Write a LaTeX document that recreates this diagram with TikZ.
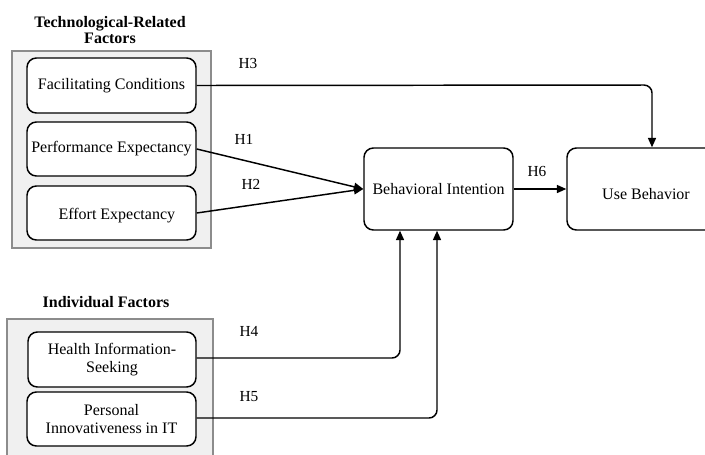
\documentclass[tikz,border=0pt]{standalone}
\usepackage{fontspec}
\setmainfont{Liberation Serif}
\usetikzlibrary{arrows.meta}
\begin{document}
\begin{tikzpicture}[x=0.75pt,y=-0.75pt,
  box/.style={draw=black, line width=1.1pt, rounded corners=7pt, fill=white, align=center, font=\fontsize{12}{14}\selectfont, inner sep=0pt},
  grp/.style={draw=black!45, line width=1pt, fill=black!6},
  ttl/.style={font=\bfseries\fontsize{12}{12.5}\selectfont, align=center},
  lbl/.style={font=\fontsize{11.5}{12}\selectfont},
  conn/.style={line width=1.1pt, -{Triangle[length=7pt,width=6pt]}, rounded corners=6pt}]
\useasboundingbox (0,0) rectangle (705,454);
\clip (0,0) rectangle (705,454);
% groups
\draw[grp] (12,51) rectangle (211,248);
\draw[grp] (7,319) rectangle (213,470);
\node[ttl] (t1) at (110,30) {Technological-Related\\[-1pt]Factors};
\node[ttl] (t2) at (106,302) {Individual Factors};
% nodes
\node[box, minimum width=169*0.75pt, minimum height=55*0.75pt] (fc) at (111.5,85.5) {Facilitating Conditions};
\node[box, minimum width=169*0.75pt, minimum height=54*0.75pt] (pe) at (111.5,149) {Performance Expectancy};
\node[box, minimum width=169*0.75pt, minimum height=54*0.75pt, text height=13pt, text depth=3pt] (ee) at (111.5,213) {\hspace*{8pt}Effort Expectancy};
\node[box, minimum width=168*0.75pt, minimum height=55*0.75pt] (hi) at (112,359.5) {Health Information-\\Seeking};
\node[box, minimum width=169*0.75pt, minimum height=54*0.75pt] (pi) at (111.5,419) {Personal\\Innovativeness in IT};
\node[box, minimum width=149*0.75pt, minimum height=82*0.75pt] (bi) at (438.5,189) {Behavioral Intention};
\node[box, minimum width=158*0.75pt, minimum height=82*0.75pt, text height=18pt, text depth=3pt] (ub) at (646,189) {Use Behavior};
% connectors
\coordinate (h3c) at (652,85);
\draw[conn] (fc.east) -- (h3c) -- (ub.north -| h3c);
\draw[conn] (pe.east) -- (bi.west);
\draw[conn] (ee.east) -- (bi.west);
\draw[conn] (bi.east) -- (ub.west);
\coordinate (h4c) at (400,358);
\coordinate (h5c) at (437,418);
\draw[conn] (hi.east |- h4c) -- (h4c) -- (bi.south -| h4c);
\draw[conn] (pi.east |- h5c) -- (h5c) -- (bi.south -| h5c);
% labels
\node[lbl] (l3) at (248,63) {H3};
\node[lbl] (l1) at (244,139) {H1};
\node[lbl] (l2) at (251,184) {H2};
\node[lbl] (l6) at (537,171) {H6};
\node[lbl] (l4) at (249,331) {H4};
\node[lbl] (l5) at (249,397) {H5};
\end{tikzpicture}
\end{document}
